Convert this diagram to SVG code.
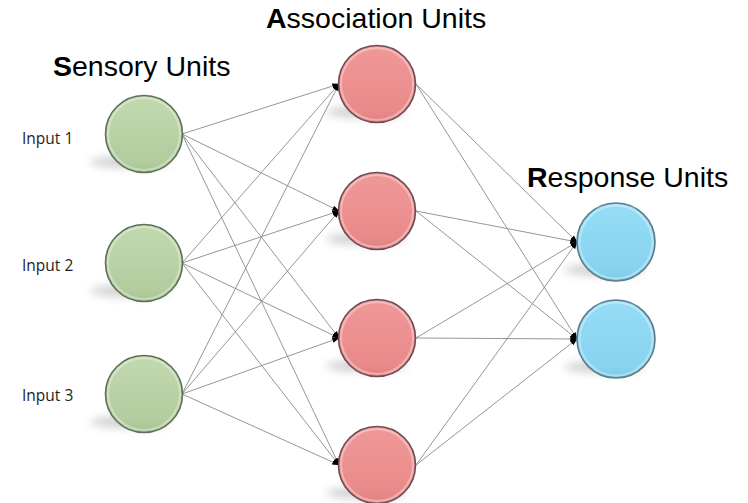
<svg xmlns="http://www.w3.org/2000/svg" width="748" height="503" viewBox="0 0 748 503">
  <style>
    .title { font-family: "Liberation Sans", Arial, sans-serif; font-size: 28.5px; fill: #000; }
    .title tspan.b { font-weight: bold; }
    .inp { font-family: "Open Sans", "DejaVu Sans", sans-serif; font-size: 15.5px; fill: #1e1e1e; }
    .edge { stroke: #8a8a8a; stroke-width: 0.9; fill: none; marker-end: url(#dot); }
    .shadow { fill: #9a9a9a; opacity: 0.45; filter: url(#soft); }
    .sens { fill: url(#gGreen); stroke: #5f6f58; stroke-width: 1.6; }
    .assoc { fill: url(#gRed); stroke: #6e4b52; stroke-width: 1.6; }
    .resp { fill: url(#gBlue); stroke: #5a7f8c; stroke-width: 1.6; }
    .rim { fill: none; stroke: #fff; stroke-opacity: 0.35; stroke-width: 2; }
  </style>
  <defs>
    <marker id="dot" viewBox="0 0 10 10" refX="9" refY="5" markerWidth="7.5" markerHeight="7.5" orient="auto" markerUnits="userSpaceOnUse">
      <path d="M0,1.5 L10,5 L0,8.5 z" fill="#000"/>
    </marker>
    <filter id="soft" x="-50%" y="-100%" width="200%" height="300%">
      <feGaussianBlur stdDeviation="4"/>
    </filter>
    <linearGradient id="gGreen" x1="0" y1="0" x2="0" y2="1">
      <stop offset="0" stop-color="#c2d9b0"/>
      <stop offset="0.85" stop-color="#b2cc9e"/>
      <stop offset="1" stop-color="#a6c293"/>
    </linearGradient>
    <linearGradient id="gRed" x1="0" y1="0" x2="0" y2="1">
      <stop offset="0" stop-color="#f09898"/>
      <stop offset="0.85" stop-color="#e98a8a"/>
      <stop offset="1" stop-color="#df8081"/>
    </linearGradient>
    <linearGradient id="gBlue" x1="0" y1="0" x2="0" y2="1">
      <stop offset="0" stop-color="#96ddf6"/>
      <stop offset="0.85" stop-color="#87d3f0"/>
      <stop offset="1" stop-color="#7cc8e6"/>
    </linearGradient>
  </defs>

  <rect width="748" height="503" fill="#fff"/>

  <!-- layer titles -->
  <text class="title" x="53" y="76"><tspan class="b">S</tspan>ensory Units</text>
  <text class="title" x="266" y="28"><tspan class="b">A</tspan>ssociation Units</text>
  <text class="title" x="527" y="187"><tspan class="b">R</tspan>esponse Units</text>

  <!-- input labels -->
  <text class="inp" x="22" y="144">Input 1</text>
  <text class="inp" x="22" y="271">Input 2</text>
  <text class="inp" x="22" y="401">Input 3</text>

  <!-- connectors -->
  <g id="connectors">
    <!-- sensory to association -->
    <line class="edge" x1="182" y1="134" x2="339" y2="84"/>
    <line class="edge" x1="182" y1="134" x2="339" y2="211"/>
    <line class="edge" x1="182" y1="134" x2="339" y2="338"/>
    <line class="edge" x1="182" y1="134" x2="339" y2="465"/>
    <line class="edge" x1="182" y1="263" x2="339" y2="84"/>
    <line class="edge" x1="182" y1="263" x2="339" y2="211"/>
    <line class="edge" x1="182" y1="263" x2="339" y2="338"/>
    <line class="edge" x1="182" y1="263" x2="339" y2="465"/>
    <line class="edge" x1="182" y1="394" x2="339" y2="84"/>
    <line class="edge" x1="182" y1="394" x2="339" y2="211"/>
    <line class="edge" x1="182" y1="394" x2="339" y2="338"/>
    <line class="edge" x1="182" y1="394" x2="339" y2="465"/>
    <!-- association to response -->
    <line class="edge" x1="416" y1="84" x2="577" y2="242"/>
    <line class="edge" x1="416" y1="84" x2="577" y2="339"/>
    <line class="edge" x1="416" y1="211" x2="577" y2="242"/>
    <line class="edge" x1="416" y1="211" x2="577" y2="339"/>
    <line class="edge" x1="416" y1="338" x2="577" y2="242"/>
    <line class="edge" x1="416" y1="338" x2="577" y2="339"/>
    <line class="edge" x1="416" y1="465" x2="577" y2="242"/>
    <line class="edge" x1="416" y1="465" x2="577" y2="339"/>
  </g>

  <!-- sensory units -->
  <g id="sensory1">
    <ellipse class="shadow" cx="130" cy="162" rx="40" ry="6"/>
    <circle class="sens" cx="144" cy="134" r="38.5"/>
    <circle class="rim" cx="144" cy="134" r="36"/>
  </g>
  <g id="sensory2">
    <ellipse class="shadow" cx="130" cy="291" rx="40" ry="6"/>
    <circle class="sens" cx="144" cy="263" r="38.5"/>
    <circle class="rim" cx="144" cy="263" r="36"/>
  </g>
  <g id="sensory3">
    <ellipse class="shadow" cx="130" cy="422" rx="40" ry="6"/>
    <circle class="sens" cx="144" cy="394" r="38.5"/>
    <circle class="rim" cx="144" cy="394" r="36"/>
  </g>

  <!-- association units -->
  <g id="assoc1">
    <ellipse class="shadow" cx="366" cy="112" rx="40" ry="6"/>
    <circle class="assoc" cx="377" cy="84" r="38.5"/>
    <circle class="rim" cx="377" cy="84" r="36"/>
  </g>
  <g id="assoc2">
    <ellipse class="shadow" cx="366" cy="239" rx="40" ry="6"/>
    <circle class="assoc" cx="377" cy="211" r="38.5"/>
    <circle class="rim" cx="377" cy="211" r="36"/>
  </g>
  <g id="assoc3">
    <ellipse class="shadow" cx="366" cy="366" rx="40" ry="6"/>
    <circle class="assoc" cx="377" cy="338" r="38.5"/>
    <circle class="rim" cx="377" cy="338" r="36"/>
  </g>
  <g id="assoc4">
    <ellipse class="shadow" cx="366" cy="493" rx="40" ry="6"/>
    <circle class="assoc" cx="377" cy="465" r="38.5"/>
    <circle class="rim" cx="377" cy="465" r="36"/>
  </g>

  <!-- response units -->
  <g id="resp1">
    <ellipse class="shadow" cx="604" cy="270" rx="40" ry="6"/>
    <circle class="resp" cx="616" cy="242" r="39"/>
    <circle class="rim" cx="616" cy="242" r="36.5"/>
  </g>
  <g id="resp2">
    <ellipse class="shadow" cx="604" cy="367" rx="40" ry="6"/>
    <circle class="resp" cx="616" cy="339" r="39"/>
    <circle class="rim" cx="616" cy="339" r="36.5"/>
  </g>
</svg>
